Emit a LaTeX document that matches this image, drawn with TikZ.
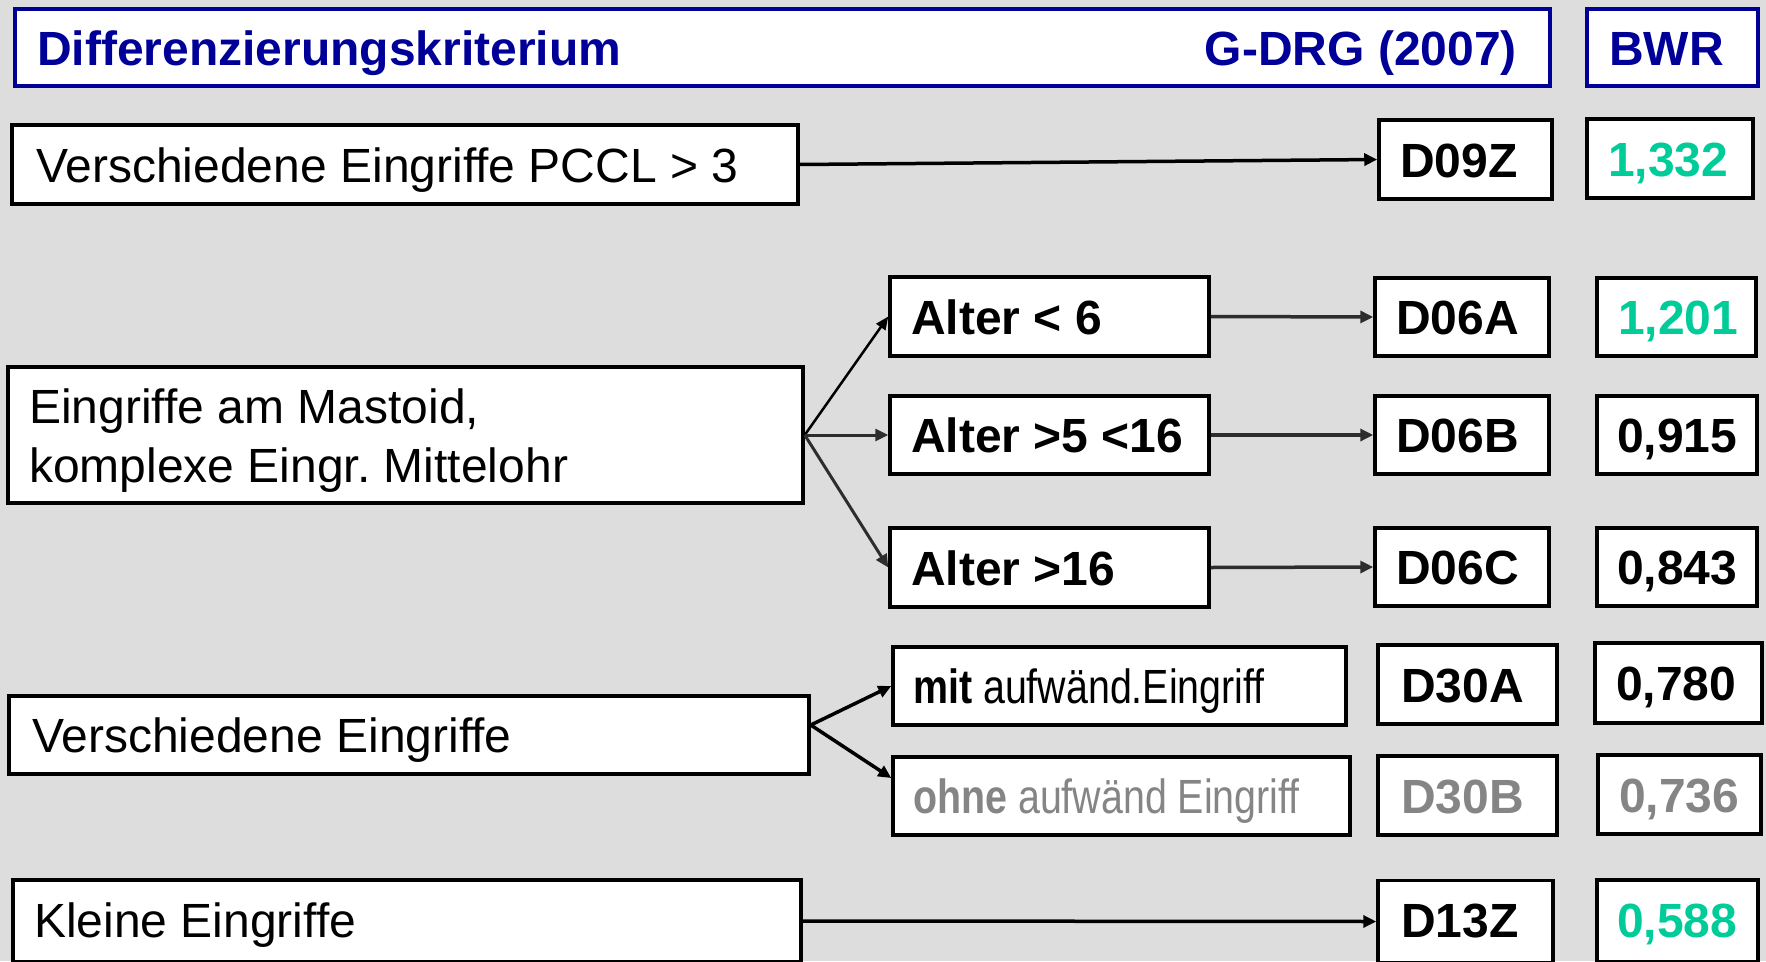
\documentclass[tikz,border=0pt]{standalone}
\usepackage{fontspec}
\setmainfont{Liberation Sans}
\newfontfamily\narrowfont[FakeStretch=0.82]{Liberation Sans}
\usetikzlibrary{arrows.meta,calc}
\definecolor{hdrblue}{RGB}{0,0,153}
\definecolor{valgreen}{RGB}{0,204,153}
\definecolor{dimtxt}{RGB}{133,133,133}
\definecolor{bggray}{RGB}{221,221,221}
\definecolor{arrdark}{RGB}{45,45,45}
\frenchspacing
\begin{document}
\begin{tikzpicture}[x=1pt,y=-1pt,
  box/.style={draw=black, fill=white, line width=3.5pt, inner sep=0pt},
  hbox/.style={box, draw=hdrblue},
  txt/.style={inner sep=0pt, anchor=base west, font=\fontsize{48pt}{59pt}\selectfont},
  txtb/.style={inner sep=0pt, anchor=base west, font=\fontsize{48pt}{59pt}\selectfont\bfseries},
  txtn/.style={inner sep=0pt, anchor=base west, font=\fontsize{48pt}{59pt}\selectfont\narrowfont},
  conn/.style={draw=black, line width=3.5pt, -{Triangle[length=13pt,width=12pt]}},
  conndark/.style={draw=arrdark, line width=3.5pt, -{Triangle[length=13pt,width=12pt]}},
  connthin/.style={draw=black, line width=2.5pt, -{Triangle[length=13pt,width=11pt]}}
]
\useasboundingbox (0,0) rectangle (1766,961);
\fill[bggray] (0,0) rectangle (1766,961);

% header
\node[hbox, minimum width=1535, minimum height=77] (hdr) at (782.5,47.5) {};
\node[hbox, minimum width=171, minimum height=77] (hbwr) at (1672.5,47.5) {};
\node[txtb, text=hdrblue] (hdrl) at (37,65) {Differenzierungskriterium};
\node[txtb, text=hdrblue, anchor=base east] (hdrr) at (1517,65) {G-DRG (2007)};
\node[txtb, text=hdrblue] (hdrbwr) at (1609,65) {BWR};

% row 1
\node[box, minimum width=786, minimum height=79] (pccl) at (405,164.5) {};
\node[txt] (pcclt) at (36,182) {Verschiedene Eingriffe PCCL > 3};
\node[box, minimum width=173, minimum height=79] (d09z) at (1465.5,159.5) {};
\node[txtb] (d09zt) at (1400,177) {D09Z};
\node[box, minimum width=166, minimum height=79] (v1332) at (1670,158.5) {};
\node[txtb, text=valgreen] (v1332t) at (1608,176) {1,332};

% mastoid block
\node[box, minimum width=795, minimum height=136] (mast) at (405.5,435) {};
\node[txt] (mastt1) at (29,423) {Eingriffe am Mastoid,};
\node[txt] (mastt2) at (29,482) {komplexe Eingr. Mittelohr};

\node[box, minimum width=319, minimum height=79] (alt1) at (1049.5,316.5) {};
\node[txtb] (alt1t) at (911,334) {Alter < 6};
\node[box, minimum width=319, minimum height=78] (alt2) at (1049.5,435) {};
\node[txtb] (alt2t) at (911,452) {Alter >5 <16};
\node[box, minimum width=319, minimum height=79] (alt3) at (1049.5,567.5) {};
\node[txtb] (alt3t) at (911,585) {Alter >16};

\node[box, minimum width=174, minimum height=78] (d06a) at (1462,317) {};
\node[txtb] (d06at) at (1396,334) {D06A};
\node[box, minimum width=174, minimum height=78] (d06b) at (1462,435) {};
\node[txtb] (d06bt) at (1396,452) {D06B};
\node[box, minimum width=174, minimum height=78] (d06c) at (1462,567) {};
\node[txtb] (d06ct) at (1396,584) {D06C};

\node[box, minimum width=159, minimum height=78] (v1201) at (1676.5,317) {};
\node[txtb, text=valgreen] (v1201t) at (1618,334) {1,201};
\node[box, minimum width=160, minimum height=78] (v0915) at (1677,435) {};
\node[txtb] (v0915t) at (1617,452) {0,915};
\node[box, minimum width=160, minimum height=78] (v0843) at (1677,567) {};
\node[txtb] (v0843t) at (1617,584) {0,843};

% verschiedene block
\node[box, minimum width=800, minimum height=78] (vers) at (409,735) {};
\node[txt] (verst) at (32,752) {Verschiedene Eingriffe};
\node[box, minimum width=453, minimum height=78] (mit) at (1119.5,686) {};
\node[txtn] (mitt) at (913,703) {\bfseries mit\mdseries{} aufwänd.Eingriff};
\node[box, minimum width=457, minimum height=78] (ohne) at (1121.5,796) {};
\node[txtn, text=dimtxt] (ohnet) at (913,813) {\bfseries ohne\mdseries{} aufwänd Eingriff};

\node[box, minimum width=179, minimum height=79] (d30a) at (1467.5,684.5) {};
\node[txtb] (d30at) at (1401,702) {D30A};
\node[box, minimum width=179, minimum height=79] (d30b) at (1467.5,795.5) {};
\node[txtb, text=dimtxt] (d30bt) at (1401,813) {D30B};
\node[box, minimum width=167, minimum height=80] (v0780) at (1678.5,683) {};
\node[txtb] (v0780t) at (1616,700) {0,780};
\node[box, minimum width=163, minimum height=79] (v0736) at (1679.5,794.5) {};
\node[txtb, text=dimtxt] (v0736t) at (1619,812) {0,736};

% kleine
\node[box, minimum width=788, minimum height=82] (klein) at (407,921) {};
\node[txt] (kleint) at (34,937) {Kleine Eingriffe};
\node[box, minimum width=175, minimum height=82] (d13z) at (1465.5,921.5) {};
\node[txtb] (d13zt) at (1401,937) {D13Z};
\node[box, minimum width=161, minimum height=82] (v0588) at (1677.5,921) {};
\node[txtb, text=valgreen] (v0588t) at (1617,937) {0,588};

% connectors
\draw[conn] (pccl.east) -- (d09z.west);
\draw[connthin] (mast.east) -- (alt1.west);
\draw[conndark, line width=3pt] (mast.east) -- (alt2.west);
\draw[conndark, line width=3pt] (mast.east) -- (alt3.west);
\draw[conndark] (alt1.east) -- (d06a.west);
\draw[conndark] (alt2.east) -- (d06b.west);
\draw[conndark] (alt3.east) -- (d06c.west);
\coordinate (vsrc) at ($(vers.east)+(0,-10)$);
\coordinate (ohnein) at ($(ohne.west)+(0,-18)$);
\draw[conn] (vsrc) -- (mit.west);
\draw[conn] (vsrc) -- (ohnein);
\draw[conn] (klein.east) -- (d13z.west);
\end{tikzpicture}
\end{document}
